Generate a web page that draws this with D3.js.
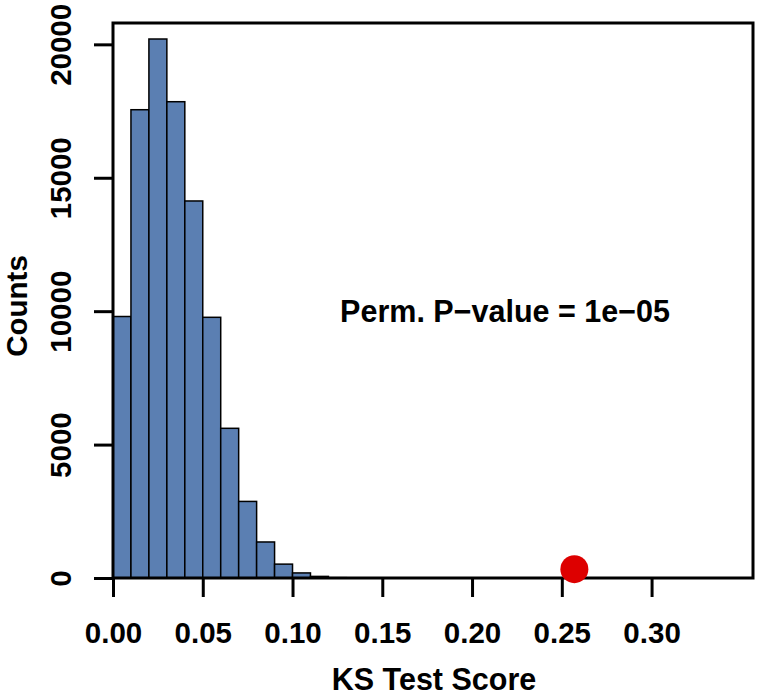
<!DOCTYPE html>
<html>
<meta charset="utf-8">
<style>
body { margin: 0; background: #fff; }
text { font-family: "Liberation Sans", Arial, Helvetica, sans-serif; font-weight: bold; fill: #000; }
.bar { fill: #5b7fb2; stroke: #000; stroke-width: 1.5px; }
</style>
<body>
<script src="https://d3js.org/d3.v7.min.js"></script>
<script>

// histogram bins (left edge, width 0.01) and counts
var binStarts = [0.00,0.01,0.02,0.03,0.04,0.05,0.06,0.07,0.08,0.09,0.10,0.11,0.12,0.13];
var counts    = [9800,17550,20200,17850,14130,9770,5610,2870,1350,520,190,60,12,4];
var binWidth = 0.01;
var xTicks = [0.00,0.05,0.10,0.15,0.20,0.25,0.30];
var yTicks = [0,5000,10000,15000,20000];
var observed = [0.257, 330];
var note = "Perm. P\u2212value = 1e\u221205";

var W = 760, H = 697;
var svg = d3.select("body").append("svg").attr("width", W).attr("height", H);

var x = d3.scaleLinear().domain([0, 0.3565]).range([113, 753]);
var y = d3.scaleLinear().domain([0, 20800]).range([578, 23]);

svg.selectAll(".bar").data(binStarts).enter().append("rect")
	.attr("class","bar")
	.attr("x", d=>x(d))
	.attr("width", d=>x(d+binWidth)-x(d))
	.attr("y", (d,i)=>y(counts[i]))
	.attr("height", (d,i)=>y(0)-y(counts[i]));

// box
svg.append("rect")
	.attr("x", 113).attr("y", 23).attr("width", 640).attr("height", 555)
	.attr("fill","none").attr("stroke","#000").attr("stroke-width",3);

// x axis
var xAxis = svg.append("g").attr("transform","translate(0,578)")
	.call(d3.axisBottom(x).tickValues(xTicks).tickSize(19).tickFormat(d3.format(".2f")));
xAxis.select(".domain").remove();
xAxis.selectAll("line").attr("stroke","#000").attr("stroke-width",3);
xAxis.selectAll("text").attr("y", 0).attr("dy", null)
	.attr("transform","translate(0,65)")
	.style("font-size","29.5px").style("font-family",null).attr("fill","#000");

// y axis
var yAxis = svg.append("g").attr("transform","translate(113,0)")
	.call(d3.axisLeft(y).tickValues(yTicks).tickSize(19).tickFormat(d3.format("d")));
yAxis.select(".domain").remove();
yAxis.selectAll("line").attr("stroke","#000").attr("stroke-width",3);
yAxis.selectAll("text").attr("x", 0).attr("dy", null)
	.attr("transform","translate(-42,0) rotate(-90)")
	.attr("text-anchor","middle")
	.style("font-size","29.5px").style("font-family",null).attr("fill","#000");

// observed statistic
svg.append("circle")
	.attr("cx", x(observed[0])).attr("cy", y(observed[1])).attr("r", 14)
	.attr("fill","#dd0000");

svg.append("text").attr("x", 505).attr("y", 322)
	.attr("text-anchor","middle").style("font-size","30.5px").text(note);

svg.append("text").attr("x", 434).attr("y", 690)
	.attr("text-anchor","middle").style("font-size","30.5px").text("KS Test Score");

svg.append("text").attr("transform","translate(27,306) rotate(-90)")
	.attr("text-anchor","middle").style("font-size","29.5px").text("Counts");
</script>
</body>
</html>
